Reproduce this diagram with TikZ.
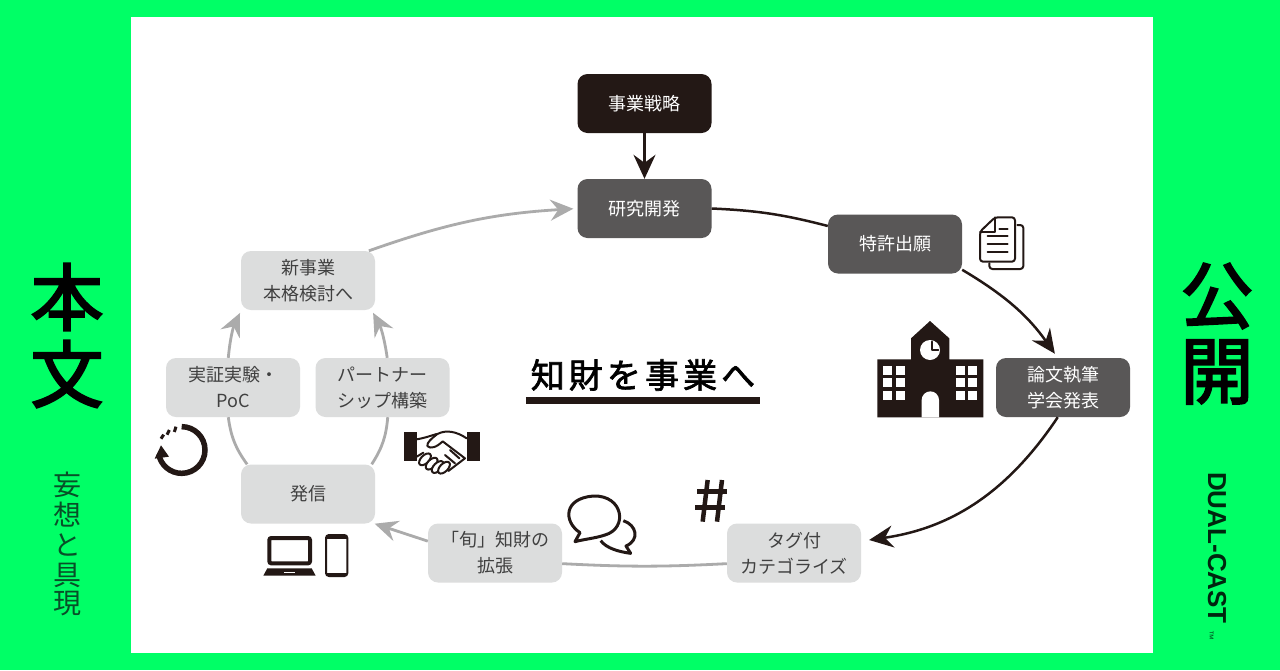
\documentclass[tikz,border=0pt]{standalone}
\usepackage{fontspec}
\usepackage{tikz}
\usetikzlibrary{arrows.meta}
\usetikzlibrary{positioning}
\setmainfont{Noto Sans CJK JP}
\newfontfamily\titlefont[LetterSpace=12,FakeBold=2]{Noto Sans CJK JP}
\newfontfamily\heavyfont[FakeBold=2.8]{Noto Sans CJK JP}
\newfontfamily\latinfont{Liberation Sans}
\definecolor{bggreen}{HTML}{00FF66}
\definecolor{inkblack}{HTML}{231815}
\definecolor{midgray}{HTML}{595757}
\definecolor{palegray}{HTML}{DCDDDD}
\definecolor{flowgray}{HTML}{ABABAB}
\definecolor{darkgreen}{HTML}{084F28}

\begin{document}
\begin{tikzpicture}[
    x=1pt, y=-1pt,
    box/.style={rectangle, rounded corners=10, minimum width=134pt, minimum height=59pt, inner sep=0,
        align=center, font=\fontsize{18}{26}\selectfont},
    darkbox/.style={box, fill=inkblack, text=white},
    midbox/.style={box, fill=midgray, text=white},
    palebox/.style={box, fill=palegray, text=black!75},
    blackflow/.style={draw=inkblack, line width=2.5},
    grayflow/.style={draw=flowgray, line width=2.8},
    blacktip/.style={blackflow, -{Stealth[length=24pt,width=22pt,inset=8pt]}},
    graytip/.style={grayflow, -{Stealth[length=23pt,width=21pt,inset=8pt]}},
    icon/.style={draw=inkblack, line width=2, line join=round, line cap=round},
    bigchar/.style={inner sep=0, font=\fontsize{73}{73}\selectfont\heavyfont},
    ]

    \useasboundingbox (0,0) rectangle (1280,670);
    \fill [bggreen] (0,0) rectangle (1280,670);
    \fill [white] (131,17) rectangle (1153,653);

    % boxes
    \node (senryaku) [darkbox] at (644.5,103.5) {事業戦略};
    \node (kenkyu) [midbox] at (644.5,208.5) {研究開発};
    \node (tokkyo) [midbox] at (895,244) {特許出願};
    \node (ronbun) [midbox] at (1063,387.5) {論文執筆\\学会発表};
    \node (tag) [palebox] at (794,553) {タグ付\\カテゴライズ};
    \node (shun) [palebox] at (495,553) {「旬」知財の\\拡張};
    \node (hasshin) [palebox] at (308,494) {発信};
    \node (jissho) [palebox] at (233,387.5) {実証実験・\\PoC};
    \node (partner) [palebox] at (382.5,387.5) {パートナー\\シップ構築};
    \node (shinjigyo) [palebox] at (308,280.5) {新事業\\本格検討へ};

    % connectors
    \draw [blacktip] (senryaku) to (kenkyu);
    \draw [blackflow] (kenkyu.east) to [bend left=6] (tokkyo.165);
    \draw [blacktip, shorten >=5] (tokkyo.-21) to [bend left=12] (ronbun.100);
    \draw [blacktip, shorten >=8] (ronbun.-100) to [bend left=24] (tag.10);
    \draw [grayflow] (tag.189) to [bend left=3] (shun.-9);
    \draw [graytip] (shun.170) to (hasshin.-24);
    \draw [grayflow] (hasshin.154) to [bend left=14] (jissho.-99);
    \draw [grayflow] (hasshin.25) to [bend right=14] (partner.-80);
    \draw [graytip, shorten >=3] (jissho.99) to [bend left=10] (shinjigyo.204);
    \draw [graytip, shorten >=3] (partner.81) to [bend right=10] (shinjigyo.-25);
    \draw [graytip, shorten >=4] (shinjigyo.26) to [bend left=8] (kenkyu.west);

    % title
    \node (title) [inner sep=0, minimum width=234pt, minimum height=51pt,
        font=\fontsize{34}{34}\selectfont\titlefont] at (643,375) {知財を事業へ};
    \draw [inkblack, line width=7] (title.south west) -- (title.south east);

    % side texts
    \node (hon) [bigchar] at (67,297) {本};
    \node (bun) [bigchar] at (67,374) {文};
    \node (ko) [bigchar] at (1217,296) {公};
    \node (kai) [bigchar] at (1217,372) {開};
    \foreach \i/\c/\y in {1/妄/485, 2/想/515, 3/と/545, 4/具/575, 5/現/604} {
        \node (mozo\i) [inner sep=0, text=darkgreen, font=\fontsize{28}{28}\selectfont] at (67,\y) {\c};
    }
    \node (dual) [inner sep=0, anchor=west, rotate=-90, text=black!85!bggreen,
        font=\fontsize{26}{26}\selectfont\latinfont\bfseries] at (1217,472) {DUAL-CAST};
    \node (tm) [inner sep=0, rotate=-90, text=black!70!bggreen,
        font=\fontsize{10}{10}\selectfont\latinfont] at (1210,635) {™};

    % document
    \begin{scope}[shift={(860,200)}, scale=1/3]
        \draw [icon, rounded corners=3] (405,52) -- (465,52) -- (465,185) -- (360,185) -- (360,95) -- cycle;
        \draw [icon] (405,52) -- (405,95) -- (360,95);
        \draw [icon, rounded corners=3] (472,75) -- (490,75) -- (490,207) -- (388,207) -- (388,190);
        \draw [icon] (418,88) -- (443,88);
        \foreach \y in {107, 133, 157} {
            \draw [icon] (383,\y) -- (443,\y);
        }
        % school
        \fill [inkblack] (52,478) -- (153,478) -- (153,415) -- (210,363) -- (268,415) -- (268,478)
            -- (370,478) -- (370,652) -- (52,652) -- cycle;
        \fill [white] (210,450) circle (30);
        \draw [icon] (216,425) -- (216,450) -- (235,450);
        \foreach \x in {70, 108, 287, 325} {
            \foreach \y in {498, 535, 573} {
                \fill [white] (\x,\y) rectangle ++(27,26);
            }
        }
        \fill [white] (185,652) -- (185,600) arc [start angle=180, end angle=360, radius=26] -- (237,652) -- cycle;
    \end{scope}

    % cycle, handshake, devices
    \begin{scope}[shift={(140,410)}, scale=1/3]
        \draw [inkblack, line width=5.5] (125,50) arc [start angle=-90, end angle=170, radius=70];
        \fill [inkblack] (63,106) -- (87,140) -- (44,146) -- cycle;
        \foreach \a/\b/\c/\d in {108/50/103/66, 88/60/81/74, 71/74/63/86} {
            \draw [inkblack, line width=3] (\a,\b) -- (\c,\d);
        }
        \fill [inkblack] (792,67) rectangle (830,152);
        \fill [inkblack] (980,67) rectangle (1020,152);
        \draw [icon] (830,88) .. controls (850,85) and (870,78) .. (890,72);
        \draw [icon] (980,85) .. controls (950,65) and (920,58) .. (892,72)
            .. controls (875,85) and (860,98) .. (862,108)
            .. controls (870,118) and (890,112) .. (908,94)
            -- (975,145) -- (925,183);
        \draw [icon] (830,140) -- (850,128);
        \foreach \x/\y in {855/148, 875/161, 893/171, 912/173} {
            \draw [icon, fill=white, rotate around={45:(\x,\y)}] (\x,\y) ellipse (22 and 12);
        }
        \draw [icon] (930,120) -- (958,145);
        \draw [icon] (915,135) -- (945,160);
        % laptop
        \draw [inkblack, line width=4, rounded corners=2] (388,384) rectangle (510,460);
        \fill [inkblack] (382,475) -- (515,475) -- (527,497) -- (370,497) -- cycle;
        \fill [white] (432,485) rectangle (465,490);
        % phone
        \draw [inkblack, line width=2, rounded corners=3] (558,375) rectangle (622,498);
        \fill [inkblack] (558,376) rectangle (622,386);
        \fill [inkblack] (558,488) rectangle (622,498);
    \end{scope}

    % bubbles and hash
    \begin{scope}[shift={(540,470)}, scale=1/3]
        \draw [inkblack, line width=3, line join=round] (105,215) -- (120,188)
            .. controls (70,155) and (70,85) .. (160,78)
            .. controls (250,75) and (265,175) .. (195,195)
            .. controls (165,205) and (130,208) .. (105,215) -- cycle;
        \draw [inkblack, line width=3, line join=round] (250,152)
            .. controls (290,165) and (300,210) .. (258,228) -- (272,250)
            .. controls (235,245) and (200,235) .. (182,212);
        \draw [inkblack, line width=5] (472,65) -- (562,65);
        \draw [inkblack, line width=5] (466,113) -- (556,113);
        \draw [inkblack, line width=4.5] (503,30) -- (488,155);
        \draw [inkblack, line width=4.5] (546,30) -- (531,155);
    \end{scope}
\end{tikzpicture}
\end{document}
